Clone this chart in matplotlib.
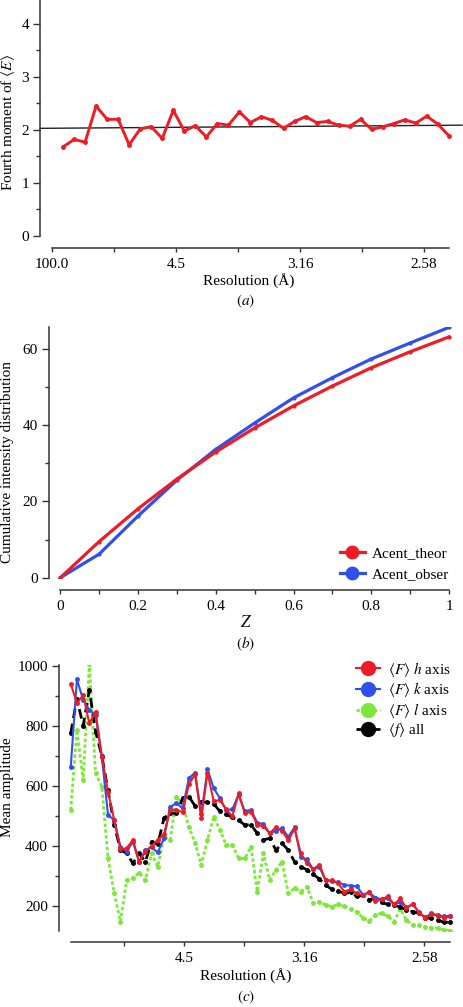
import numpy as np
import matplotlib
matplotlib.use("Agg")
import matplotlib.pyplot as plt
from matplotlib.ticker import MultipleLocator, FixedLocator

plt.rcParams["font.family"] = ["Liberation Serif", "DejaVu Serif"]
plt.rcParams["mathtext.fontset"] = "stix"
plt.rcParams["font.size"] = 11

W, H = 464, 1007

# ── data: panel (a) fourth moment of <E> per resolution bin ─────────────────
a_bins = np.arange(1, 37)            # 36 resolution shells up to 1/d^2 = 0.16
a_step = 0.16 / 36
fourth_moment = [1.68, 1.82, 1.77, 2.45, 2.20, 2.20, 1.72, 2.02, 2.06, 1.84,
                 2.37, 1.98, 2.08, 1.87, 2.12, 2.09, 2.34, 2.14, 2.25, 2.18,
                 2.03, 2.16, 2.25, 2.14, 2.16, 2.09, 2.07, 2.20, 2.01, 2.06,
                 2.12, 2.19, 2.13, 2.26, 2.11, 1.89]
trend_vals = [2.03, 2.09]

# ── data: panel (b) cumulative intensity distribution ───────────────────────
z_vals = [0, 0.1, 0.2, 0.3, 0.4, 0.5, 0.6, 0.7, 0.8, 0.9, 1.0]
acent_theor = [0, 9.5, 18.1, 25.9, 33.0, 39.3, 45.1, 50.3, 55.1, 59.3, 63.2]
acent_obser = [0, 6.2, 16.2, 25.6, 33.7, 40.6, 47.2, 52.5, 57.4, 61.6, 65.7]

# ── data: panel (c) mean amplitude per resolution bin ───────────────────────
c_first, c_last = 0.00267, 0.1607
c_n = 62
amp_h = [939, 875, 902, 808, 847, 697, 580, 486, 389, 392,
         420, 347, 381, 400, 420, 438, 520, 520, 512, 605,
         638, 492, 644, 548, 553, 522, 498, 575, 508, 514,
         470, 465, 442, 462, 450, 418, 458, 375, 342, 322,
         338, 285, 285, 275, 248, 255, 242, 235, 245, 215,
         222, 232, 205, 225, 192, 208, 178, 160, 172, 168,
         160, 165]
amp_k = [662, 954, 886, 852, 836, 697, 503, 486, 397, 381,
         414, 347, 385, 395, 378, 425, 530, 542, 525, 625,
         644, 505, 655, 592, 558, 519, 522, 570, 515, 520,
         477, 473, 442, 450, 458, 430, 462, 362, 355, 322,
         330, 285, 282, 280, 270, 268, 265, 238, 245, 228,
         222, 225, 205, 212, 195, 205, 180, 162, 175, 170,
         165, 168]
amp_l = [519, 786, 619, 1005, 642, 597, 359, 242, 148, 286,
         292, 311, 286, 375, 331, 430, 420, 564, 540, 464,
         410, 336, 420, 497, 453, 403, 403, 358, 358, 397,
         248, 375, 286, 320, 347, 242, 259, 248, 264, 209,
         214, 203, 198, 205, 200, 190, 180, 160, 150, 170,
         176, 165, 148, 190, 153, 137, 137, 131, 128, 126,
         120, 118]
amp_all = [775, 890, 800, 918, 780, 700, 585, 470, 386, 375,
           342, 375, 347, 414, 405, 492, 510, 508, 558, 564,
           533, 547, 545, 540, 515, 505, 495, 485, 470, 470,
           442, 420, 425, 386, 408, 386, 347, 331, 320, 305,
           290, 270, 255, 250, 242, 245, 232, 235, 220, 225,
           212, 205, 203, 196, 187, 181, 176, 159, 160, 153,
           146, 146]

res_ticks = [0.0, 0.05, 0.10, 0.15]
res_labels = ["100.0", "4.5", "3.16", "2.58"]

RED = "#ee1c24"
BLUE = "#3050ee"
GREEN = "#7de83a"
SPINE = "#333333"


def px_axes(fig, left, top, right, bottom):
    return fig.add_axes([left / W, 1 - bottom / H, (right - left) / W, (bottom - top) / H])


def px_text(fig, x, y, s, **kw):
    kw.setdefault("fontsize", 11)
    return fig.text(x / W, 1 - y / H, s, ha="center", va="center", **kw)


def style(ax, out_px):
    ax.spines["top"].set_visible(False)
    ax.spines["right"].set_visible(False)
    for s in ("left", "bottom"):
        ax.spines[s].set_color(SPINE)
        ax.spines[s].set_linewidth(1.1)
    ax.spines["bottom"].set_position(("outward", out_px * 72 / 100))
    ax.tick_params(which="major", direction="out", length=5, width=1, color=SPINE, labelsize=11)
    ax.tick_params(which="minor", direction="out", length=3, width=1, color=SPINE)
    ax.tick_params(axis="x", which="major", length=3, pad=4)
    ax.tick_params(axis="x", which="minor", length=3)
    ax.tick_params(axis="y", pad=3)


fig = plt.figure(figsize=(W / 100, H / 100), dpi=100)

# ── (a) ──
ax = px_axes(fig, 40, 0, 462, 236)
xa = a_bins * a_step
ax.plot(xa, fourth_moment, color=RED, lw=2.1, marker="o", ms=2.5, zorder=3)
ax.set_xlim(-0.00484, 0.1653)
ax.set_ylim(0, 4.45)
ax.plot(ax.get_xlim(), trend_vals, color="#222222", lw=1.0, zorder=2, clip_on=False)
style(ax, 12)
ax.spines["bottom"].set_bounds(0, 0.16)
ax.spines["left"].set_bounds(0, 4.45)
ax.xaxis.set_major_locator(FixedLocator(res_ticks))
ax.set_xticklabels(res_labels)
ax.xaxis.set_minor_locator(FixedLocator([0.025, 0.075, 0.125]))
ax.yaxis.set_major_locator(MultipleLocator(1))
ax.yaxis.set_minor_locator(MultipleLocator(0.5))
px_text(fig, 8, 122, r"Fourth moment of $\langle E\rangle$", rotation=90)
px_text(fig, 249, 281, "Resolution (Å)")
px_text(fig, 246, 301, r"$(\mathit{a})$")

# ── (b) ──
ax = px_axes(fig, 49, 327, 452, 577.7)
ax.plot(z_vals, acent_theor, color=RED, lw=2.3, marker="o", ms=2, label="Acent_theor", zorder=3)
ax.plot(z_vals, acent_obser, color=BLUE, lw=2.3, marker="o", ms=2, label="Acent_obser", zorder=2)
ax.set_xlim(-0.0291, 1.0077)
ax.set_ylim(0, 65.8)
style(ax, 12.3)
ax.spines["bottom"].set_bounds(0, 1)
ax.xaxis.set_major_locator(FixedLocator([0, 0.2, 0.4, 0.6, 0.8, 1.0]))
ax.set_xticklabels(["0", "0.2", "0.4", "0.6", "0.8", "1"])
ax.xaxis.set_minor_locator(MultipleLocator(0.1))
ax.yaxis.set_major_locator(MultipleLocator(20))
ax.yaxis.set_minor_locator(MultipleLocator(10))
ax.legend(loc="lower right", frameon=False, fontsize=11, handlelength=1.6,
          handletextpad=0.5, labelspacing=0.45, markerscale=4.5,
          bbox_to_anchor=(1.028, -0.068))
px_text(fig, 8, 462, "Cumulative intensity distribution", rotation=90)
px_text(fig, 246, 623, r"$Z$", fontsize=12)
px_text(fig, 246, 644, r"$(\mathit{b})$")

# ── (c) ──
ax = px_axes(fig, 59, 664.7, 452, 930.6)
xc = np.linspace(c_first, c_last, c_n)
ax.plot(xc, amp_l, color=GREEN, lw=2.0, ls=(0, (1.2, 0.9)), marker="o", ms=2.5,
        label=r"$\langle F\rangle$ $l$ axis", zorder=2)
ax.plot(xc, amp_all, color="black", lw=2.0, ls=(0, (3.5, 2)), marker="o", ms=2.5,
        label=r"$\langle f\rangle$ all", zorder=3)
ax.plot(xc, amp_k, color=BLUE, lw=1.5, marker="o", ms=2.5,
        label=r"$\langle F\rangle$ $k$ axis", zorder=4)
ax.plot(xc, amp_h, color=RED, lw=1.5, marker="o", ms=2.5,
        label=r"$\langle F\rangle$ $h$ axis", zorder=5)
ax.set_xlim(-0.00221, 0.16154)
ax.set_ylim(118, 1003)
style(ax, 11.4)
ax.spines["bottom"].set_bounds(c_first, c_last)
ax.spines["left"].set_bounds(118, 1003)
ax.xaxis.set_major_locator(FixedLocator(res_ticks[1:]))
ax.set_xticklabels(res_labels[1:])
ax.xaxis.set_minor_locator(FixedLocator([0.025, 0.075, 0.125]))
ax.yaxis.set_major_locator(MultipleLocator(200))
ax.yaxis.set_minor_locator(MultipleLocator(100))
handles, labels = ax.get_legend_handles_labels()
order = [3, 2, 0, 1]
ax.legend([handles[i] for i in order], [labels[i] for i in order],
          loc="upper right", frameon=False, fontsize=11, handlelength=1.6,
          handletextpad=0.5, labelspacing=0.1, markerscale=4,
          bbox_to_anchor=(1.032, 1.07))
px_text(fig, 8, 787, "Mean amplitude", rotation=90)
px_text(fig, 246, 976, "Resolution (Å)")
px_text(fig, 246, 997, r"$(\mathit{c})$")

fig.savefig("out.png", dpi=100)
